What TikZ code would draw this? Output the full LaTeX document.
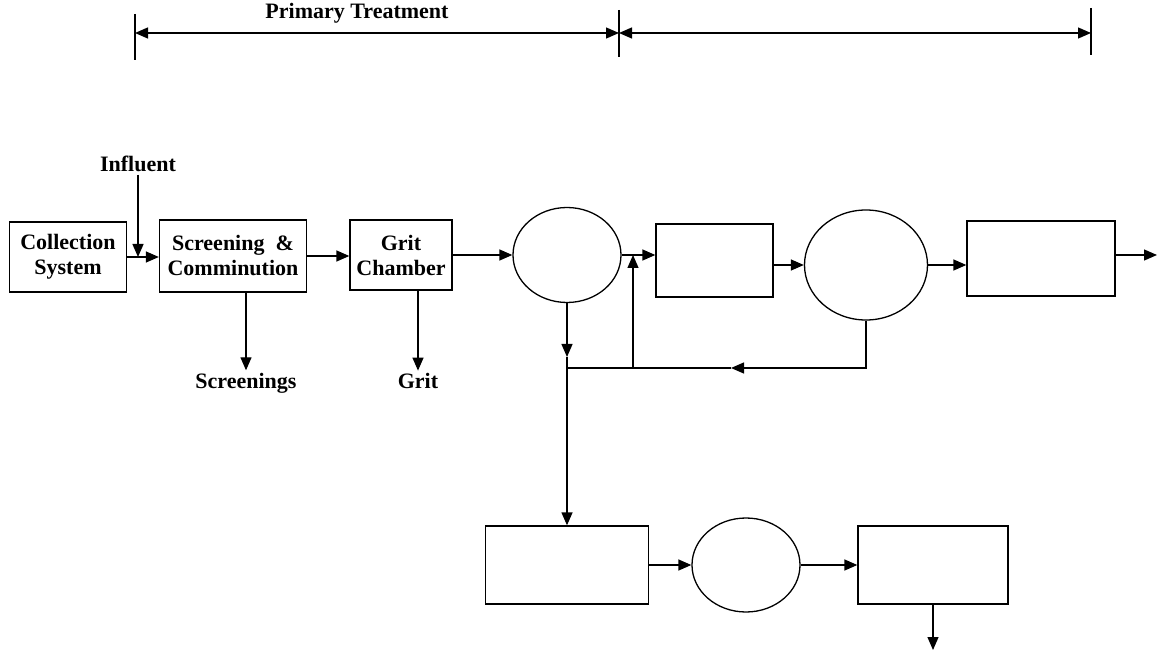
\documentclass[tikz,border=0pt]{standalone}
\usepackage{fontspec}
\setmainfont{Liberation Serif}
\usetikzlibrary{arrows.meta, shapes.geometric}

\begin{document}
\begin{tikzpicture}[x=1pt, y=-1pt, >={Triangle[length=13pt, width=11pt]}, line width=1.3pt,
    blk/.style={draw, rectangle, inner sep=0pt, align=center, font=\fontsize{22}{25}\selectfont\bfseries},
    oval/.style={draw, ellipse, inner sep=0pt},
    lbl/.style={inner sep=2pt, font=\fontsize{22}{25}\selectfont\bfseries}]
    \useasboundingbox (0,0) rectangle (1157,652);

    % span of the treatment stages
    \coordinate (t1) at (135,33); \coordinate (t2) at (619,33); \coordinate (t3) at (1091,33);
    \draw (135,14) -- (135,60); \draw (619,10) -- (619,57); \draw (1091,8) -- (1091,55);
    \draw[<->] (t1) -- (t2);
    \draw[<->] (t2) -- (t3);
    \node[lbl] (prim) at (357,13) {Primary Treatment};

    % main line
    \node[blk, minimum width=117pt, minimum height=70pt] (coll) at (68,257) {Collection\\System};
    \node[blk, minimum width=147pt, minimum height=72pt] (scr) at (233,256) {Screening\ \ \&\\Comminution};
    \node[blk, minimum width=102pt, minimum height=70pt] (grit) at (401,255) {Grit\\Chamber};
    \node[oval, minimum width=108pt, minimum height=95pt] (c1) at (567,255) {};
    \node[blk, minimum width=117pt, minimum height=73pt] (b2) at (714.5,260.5) {};
    \node[oval, minimum width=123pt, minimum height=110pt] (c2) at (866,265) {};
    \node[blk, minimum width=148pt, minimum height=75pt] (b3) at (1041,258.5) {};

    % sludge line
    \node[blk, minimum width=163pt, minimum height=78pt] (b4) at (567,565) {};
    \node[oval, minimum width=108pt, minimum height=94pt] (c3) at (746,565) {};
    \node[blk, minimum width=150pt, minimum height=78pt] (b5) at (933,565) {};

    \node[lbl] (infl) at (138,164) {Influent};
    \node[lbl] (scrn) at (246,383) {Screenings};
    \node[lbl] (gr) at (418,381) {Grit};

    \draw[->] (infl) -- (infl |- coll.east);
    \draw[->] (coll.east) -- (coll.east -| scr.west);
    \draw[->] (scr.east) -- (scr.east -| grit.west);
    \draw[->] (grit.east) -- (grit.east -| c1.west);
    \draw[->] (scrn |- scr.south) -- (scrn.north);
    \draw[->] (gr |- grit.south) -- (gr.north);
    \draw[->] (c1.east) -- (c1.east -| b2.west);
    \draw[->] (b2.east |- c2.west) -- (c2.west);
    \draw[->] (c2.east) -- (c2.east -| b3.west);
    \coordinate (out) at (1157,255);
    \draw[->] (b3.east |- out) -- (out);

    % return and waste sludge
    \coordinate (j1) at (567,368); \coordinate (m1) at (567,357);
    \coordinate (rb) at (633,368); \coordinate (rt) at (633,255);
    \coordinate (m2) at (731,368);
    \draw[->] (c1.south) -- (m1);
    \draw (m1) -- (j1);
    \draw[->] (j1) -- (b4.north);
    \draw[->] (c2.south) |- (m2);
    \draw (m2) -- (j1);
    \draw[->] (rb) -- (rt);

    \draw[->] (b4.east) -- (c3.west);
    \draw[->] (c3.east) -- (b5.west);
    \coordinate (sl) at (933,650);
    \draw[->] (b5.south) -- (sl);
\end{tikzpicture}
\end{document}
